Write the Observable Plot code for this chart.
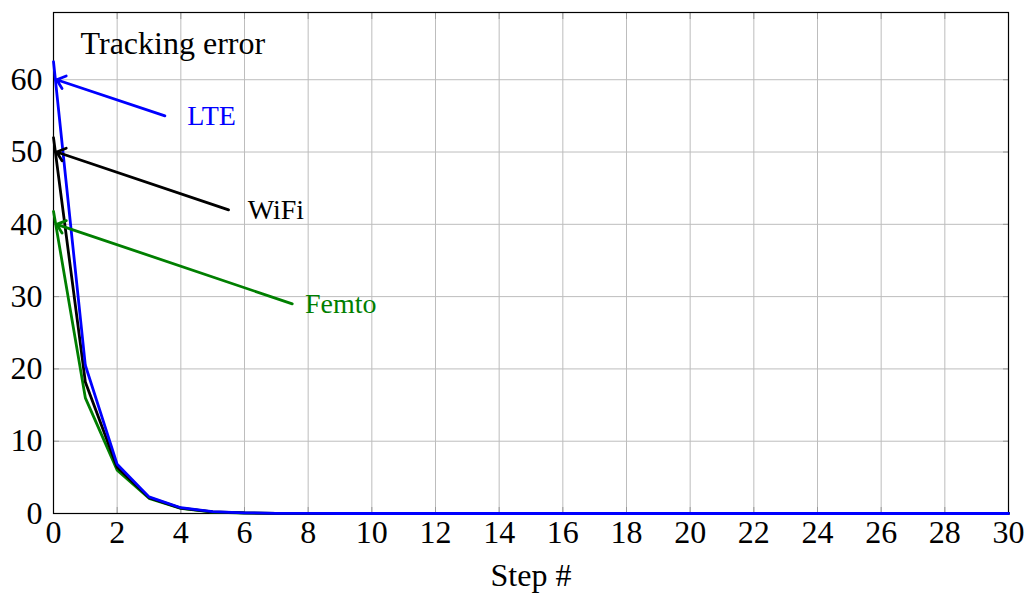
<!DOCTYPE html>
<html><head><meta charset="utf-8">
<script src="https://cdn.jsdelivr.net/npm/d3@7"></script>
<script src="https://cdn.jsdelivr.net/npm/@observablehq/plot@0.6"></script>
<style>body{margin:0;background:#fff}</style>
</head><body><div id="chart"></div>
<script>
const steps = [0,1,2,3,4,5,6,7,8,9,10,11,12,13,14,15,16,17,18,19,20,21,22,23,24,25,26,27,28,29,30];
const lte   = [62.5,20.5,6.8,2.3,0.8,0.25,0.1,0.03,0.01,0,0,0,0,0,0,0,0,0,0,0,0,0,0,0,0,0,0,0,0,0,0];
const wifi  = [52,18.2,6.4,2.2,0.75,0.22,0.08,0.03,0.01,0,0,0,0,0,0,0,0,0,0,0,0,0,0,0,0,0,0,0,0,0,0];
const femto = [41.8,16,6,2.1,0.7,0.2,0.07,0.02,0.01,0,0,0,0,0,0,0,0,0,0,0,0,0,0,0,0,0,0,0,0,0,0];
const xTicks = [0,2,4,6,8,10,12,14,16,18,20,22,24,26,28,30];
const yTicks = [0,10,20,30,40,50,60];
const seriesNames = ["Femto","WiFi","LTE"];
const seriesColors = ["#007f00","#000000","#0000ff"];
// annotation arrows: label, arrow start, arrow tip, label x
const arrowsData = [
  {name:"LTE",   x1:3.5, y1:55, x2:0.1, y2:60, lx:4.2},
  {name:"WiFi",  x1:5.5, y1:42, x2:0.1, y2:50, lx:6.1},
  {name:"Femto", x1:7.5, y1:29, x2:0.1, y2:40, lx:7.9}
];
const titleText = "Tracking error";

const seriesVals = {LTE: lte, WiFi: wifi, Femto: femto};
const rows = seriesNames.flatMap(s => steps.map((x,i) => ({series:s, x, y:seriesVals[s][i]})));
const colorOf = s => seriesColors[seriesNames.indexOf(s)];
const font = "Liberation Serif, serif";

const chart = Plot.plot({
  width: 1025, height: 594,
  marginLeft: 53, marginRight: 17, marginTop: 12, marginBottom: 81,
  style: {fontFamily: font, background: "#fff"},
  x: {domain: [0,30]},
  y: {domain: [0,69.3]},
  marks: [
    Plot.gridX(xTicks, {stroke:"#bdbdbd", strokeOpacity:1, strokeWidth:1}),
    Plot.gridY(yTicks, {stroke:"#bdbdbd", strokeOpacity:1, strokeWidth:1}),
    Plot.axisX(xTicks, {tickSize:0, tickPadding:7, fontSize:32, fill:"#000", label:"Step #", labelAnchor:"center", labelArrow:"none", labelOffset:72}),
    Plot.axisX(xTicks, {anchor:"top", tickSize:-6, tickFormat:()=>"", label:null, stroke:"#999"}),
    Plot.axisX(xTicks, {anchor:"bottom", tickSize:-6, tickFormat:()=>"", label:null, stroke:"#999"}),
    Plot.axisY(yTicks, {tickSize:0, tickPadding:11, fontSize:32, fill:"#000", label:null}),
    Plot.axisY(yTicks, {anchor:"left", tickSize:-6, tickFormat:()=>"", label:null, stroke:"#999"}),
    Plot.axisY(yTicks, {anchor:"right", tickSize:-6, tickFormat:()=>"", label:null, stroke:"#999"}),
    Plot.frame({stroke:"#000", strokeWidth:1.2}),
    Plot.line(rows, {x:"x", y:"y", z:"series", stroke: d => colorOf(d.series), strokeWidth:2.8, strokeLinejoin:"miter"}),
    Plot.arrow(arrowsData, {x1:"x1", y1:"y1", x2:"x2", y2:"y2", bend:0, stroke: d => colorOf(d.name), strokeWidth:2.8, headLength:5.5, headAngle:80}),
    Plot.text(arrowsData, {x:"lx", y:"y1", text:"name", fill: d => colorOf(d.name), textAnchor:"start", fontSize:28}),
    Plot.text([titleText], {x:0.85, y:65, text: d => d, textAnchor:"start", fontSize:32, fill:"#000"})
  ]
});
document.getElementById("chart").append(chart);
</script>
</body></html>
